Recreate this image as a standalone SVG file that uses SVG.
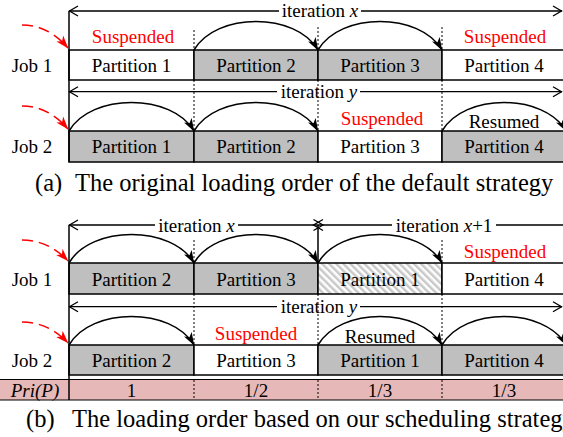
<svg xmlns="http://www.w3.org/2000/svg" width="563" height="437" viewBox="0 0 563 437">
<style>
text{font-family:"Liberation Serif","Times New Roman",serif;font-size:19px;fill:#000}
.c{text-anchor:middle}
.red{fill:#ff0000}
.cap{font-size:24.5px}
.it{font-style:italic}
.box{stroke:#000;stroke-width:1.5}
.g{fill:#bfbfbf}
.w{fill:#fff}
.h{fill:url(#hatch)}
.ln{stroke:#000;stroke-width:1.3;fill:none}
.arc{stroke:#000;stroke-width:1.5;fill:none;marker-end:url(#ah)}
.rd{stroke:#ff0000;stroke-width:1.5;fill:none;stroke-dasharray:11 6;marker-end:url(#rh)}
.dot{stroke:#000;stroke-width:1;stroke-dasharray:2 2;fill:none}
.sol{stroke:#000;stroke-width:1.5;fill:none}
</style>
<defs>
<marker id="ah" markerUnits="userSpaceOnUse" markerWidth="13" markerHeight="10" viewBox="0 0 13 9" refX="12.5" refY="4.5" orient="auto"><path d="M0,0 L13,4.5 L0,9 L3.5,4.5 z" fill="#000"/></marker>
<marker id="rh" markerUnits="userSpaceOnUse" markerWidth="13" markerHeight="10" viewBox="0 0 13 9" refX="12.5" refY="4.5" orient="auto"><path d="M0,0 L13,4.5 L0,9 L3.5,4.5 z" fill="#ff0000"/></marker>
<pattern id="hatch" width="5" height="5" patternUnits="userSpaceOnUse" patternTransform="rotate(-45)"><rect width="5" height="5" fill="#fff"/><rect width="2.5" height="5" fill="#c8c8c8"/></pattern>
</defs>
<rect width="563" height="437" fill="#fff"/>

<!-- labels -->
<g id="labels">
<text x="32" y="71.5" class="c">Job 1</text>
<text x="32" y="153" class="c">Job 2</text>
<text x="32" y="285.5" class="c">Job 1</text>
<text x="32" y="366.5" class="c">Job 2</text>
</g>

<!-- part a, job 1 -->
<g id="a-j1-p1"><rect x="69" y="50" width="125" height="30" class="box w"/><text x="131.5" y="71.5" class="c">Partition 1</text></g>
<g id="a-j1-p2"><rect x="194" y="50" width="124" height="30" class="box g"/><text x="256" y="71.5" class="c">Partition 2</text></g>
<g id="a-j1-p3"><rect x="318" y="50" width="124" height="30" class="box g"/><text x="380" y="71.5" class="c">Partition 3</text></g>
<g id="a-j1-p4"><rect x="442" y="50" width="124" height="30" class="box w"/><text x="504" y="71.5" class="c">Partition 4</text></g>
<!-- part a, job 2 -->
<g id="a-j2-p1"><rect x="69" y="131" width="125" height="31" class="box g"/><text x="131.5" y="153" class="c">Partition 1</text></g>
<g id="a-j2-p2"><rect x="194" y="131" width="124" height="31" class="box g"/><text x="256" y="153" class="c">Partition 2</text></g>
<g id="a-j2-p3"><rect x="318" y="131" width="124" height="31" class="box w"/><text x="380" y="153" class="c">Partition 3</text></g>
<g id="a-j2-p4"><rect x="442" y="131" width="124" height="31" class="box g"/><text x="504" y="153" class="c">Partition 4</text></g>

<!-- part b, job 1 -->
<g id="b-j1-p2"><rect x="69" y="263" width="125" height="31" class="box g"/><text x="131.5" y="285.5" class="c">Partition 2</text></g>
<g id="b-j1-p3"><rect x="194" y="263" width="124" height="31" class="box g"/><text x="256" y="285.5" class="c">Partition 3</text></g>
<g id="b-j1-p1"><rect x="318" y="263" width="124" height="31" class="box h"/><text x="380" y="285.5" class="c">Partition 1</text></g>
<g id="b-j1-p4"><rect x="442" y="263" width="124" height="31" class="box w"/><text x="504" y="285.5" class="c">Partition 4</text></g>
<!-- part b, job 2 -->
<g id="b-j2-p2"><rect x="69" y="345" width="125" height="30" class="box g"/><text x="131.5" y="366.5" class="c">Partition 2</text></g>
<g id="b-j2-p3"><rect x="194" y="345" width="124" height="30" class="box w"/><text x="256" y="366.5" class="c">Partition 3</text></g>
<g id="b-j2-p1"><rect x="318" y="345" width="124" height="30" class="box g"/><text x="380" y="366.5" class="c">Partition 1</text></g>
<g id="b-j2-p4"><rect x="442" y="345" width="124" height="30" class="box g"/><text x="504" y="366.5" class="c">Partition 4</text></g>

<!-- priority row -->
<g id="pri">
<rect x="-2" y="379.5" width="570" height="20.5" fill="#e6b9b8" stroke="#000" stroke-width="1"/>
<line x1="69" y1="379.5" x2="69" y2="400" class="sol"/>
<line x1="194" y1="380" x2="194" y2="400" class="dot"/>
<line x1="318" y1="380" x2="318" y2="400" class="dot"/>
<line x1="442" y1="380" x2="442" y2="400" class="dot"/>
<text x="35" y="396.5" class="c it">Pri(P)</text>
<text x="131.5" y="396.5" class="c">1</text>
<text x="256" y="396.5" class="c">1/2</text>
<text x="380" y="396.5" class="c">1/3</text>
<text x="504" y="396.5" class="c">1/3</text>
</g>

<!-- status texts -->
<g id="status">
<text x="133" y="43" class="c red">Suspended</text>
<text x="505" y="43" class="c red">Suspended</text>
<text x="382" y="125" class="c red">Suspended</text>
<text x="504" y="128" class="c">Resumed</text>
<text x="505" y="258" class="c red">Suspended</text>
<text x="256" y="340" class="c red">Suspended</text>
<text x="380" y="343" class="c">Resumed</text>
</g>

<!-- iteration brackets -->
<g id="iterations">
<text x="320" y="17" class="c">iteration <tspan class="it">x</tspan></text>
<text x="319" y="97.5" class="c">iteration <tspan class="it">y</tspan></text>
<text x="196.5" y="231.5" class="c">iteration <tspan class="it">x</tspan></text>
<text x="444" y="231.5" class="c">iteration <tspan class="it">x</tspan>+1</text>
<text x="319" y="313" class="c">iteration <tspan class="it">y</tspan></text>
</g>

<g id="connectors">
<!-- part a bracket lines -->
<line x1="69" y1="11" x2="69" y2="162" class="sol"/>
<path d="M69,11 H279 M361,11 H562" class="ln"/>
<path d="M78,6 L69.5,11 L78,16 M553,6 L561.5,11 L553,16" class="ln"/>
<path d="M69,91.7 H277 M360,91.7 H562" class="ln"/>
<path d="M78,86.7 L69.5,91.7 L78,96.7 M553,86.7 L561.5,91.7 L553,96.7" class="ln"/>
<!-- part a dotted -->
<path d="M194,30 V50 M318,27 V50 M442,27 V50 M194,80 V131 M318,80 V131 M442,80 V131" class="dot"/>
<!-- part a arcs -->
<path d="M194,50 C216,12 296,12 318,50" class="arc"/>
<path d="M318,50 C340,12 420,12 442,50" class="arc"/>
<path d="M69,131 C91,93 172,93 194,131" class="arc"/>
<path d="M194,131 C216,93 296,93 318,131" class="arc"/>
<path d="M442,131 C464,93 544,93 566,131" class="arc"/>
<!-- red arrows -->
<path d="M22,25 Q48,25 68,48" class="rd"/>
<path d="M22,106 Q48,106 68,129" class="rd"/>
<path d="M22,240 Q48,240 68,261" class="rd"/>
<path d="M22,322 Q48,322 68,343" class="rd"/>

<!-- part b bracket lines -->
<line x1="69" y1="225" x2="69" y2="380" class="sol"/>
<line x1="318" y1="225" x2="318" y2="263" class="sol"/>
<path d="M69,225 H155 M238,225 H392 M496,225 H563" class="ln"/>
<path d="M78,220 L69.5,225 L78,230" class="ln"/>
<path d="M313.5,219.5 L323,225 L313.5,230.5 M323,219.5 L313.5,225 L323,230.5" class="ln"/>
<path d="M69,306.7 H277 M360,306.7 H562" class="ln"/>
<path d="M78,301.7 L69.5,306.7 L78,311.7 M553,301.7 L561.5,306.7 L553,311.7" class="ln"/>
<!-- part b dotted -->
<path d="M194,240 V263 M442,240 V263 M194,294 V345 M318,294 V345 M442,294 V345" class="dot"/>
<!-- part b arcs -->
<path d="M69,263 C91,225 172,225 194,263" class="arc"/>
<path d="M194,263 C216,225 296,225 318,263" class="arc"/>
<path d="M318,263 C340,225 420,225 442,263" class="arc"/>
<path d="M69,345 C91,307 172,307 194,345" class="arc"/>
<path d="M318,345 C340,307 420,307 442,345" class="arc"/>
<path d="M442,345 C464,307 544,307 566,345" class="arc"/>
</g>

<!-- captions -->
<g id="captions">
<text y="190.5" class="cap"><tspan x="35">(a)</tspan><tspan x="75">The original loading order of the default strategy</tspan></text>
<text y="427" class="cap"><tspan x="26">(b)</tspan><tspan x="72">The loading order based on our scheduling strategy</tspan></text>
</g>
</svg>
